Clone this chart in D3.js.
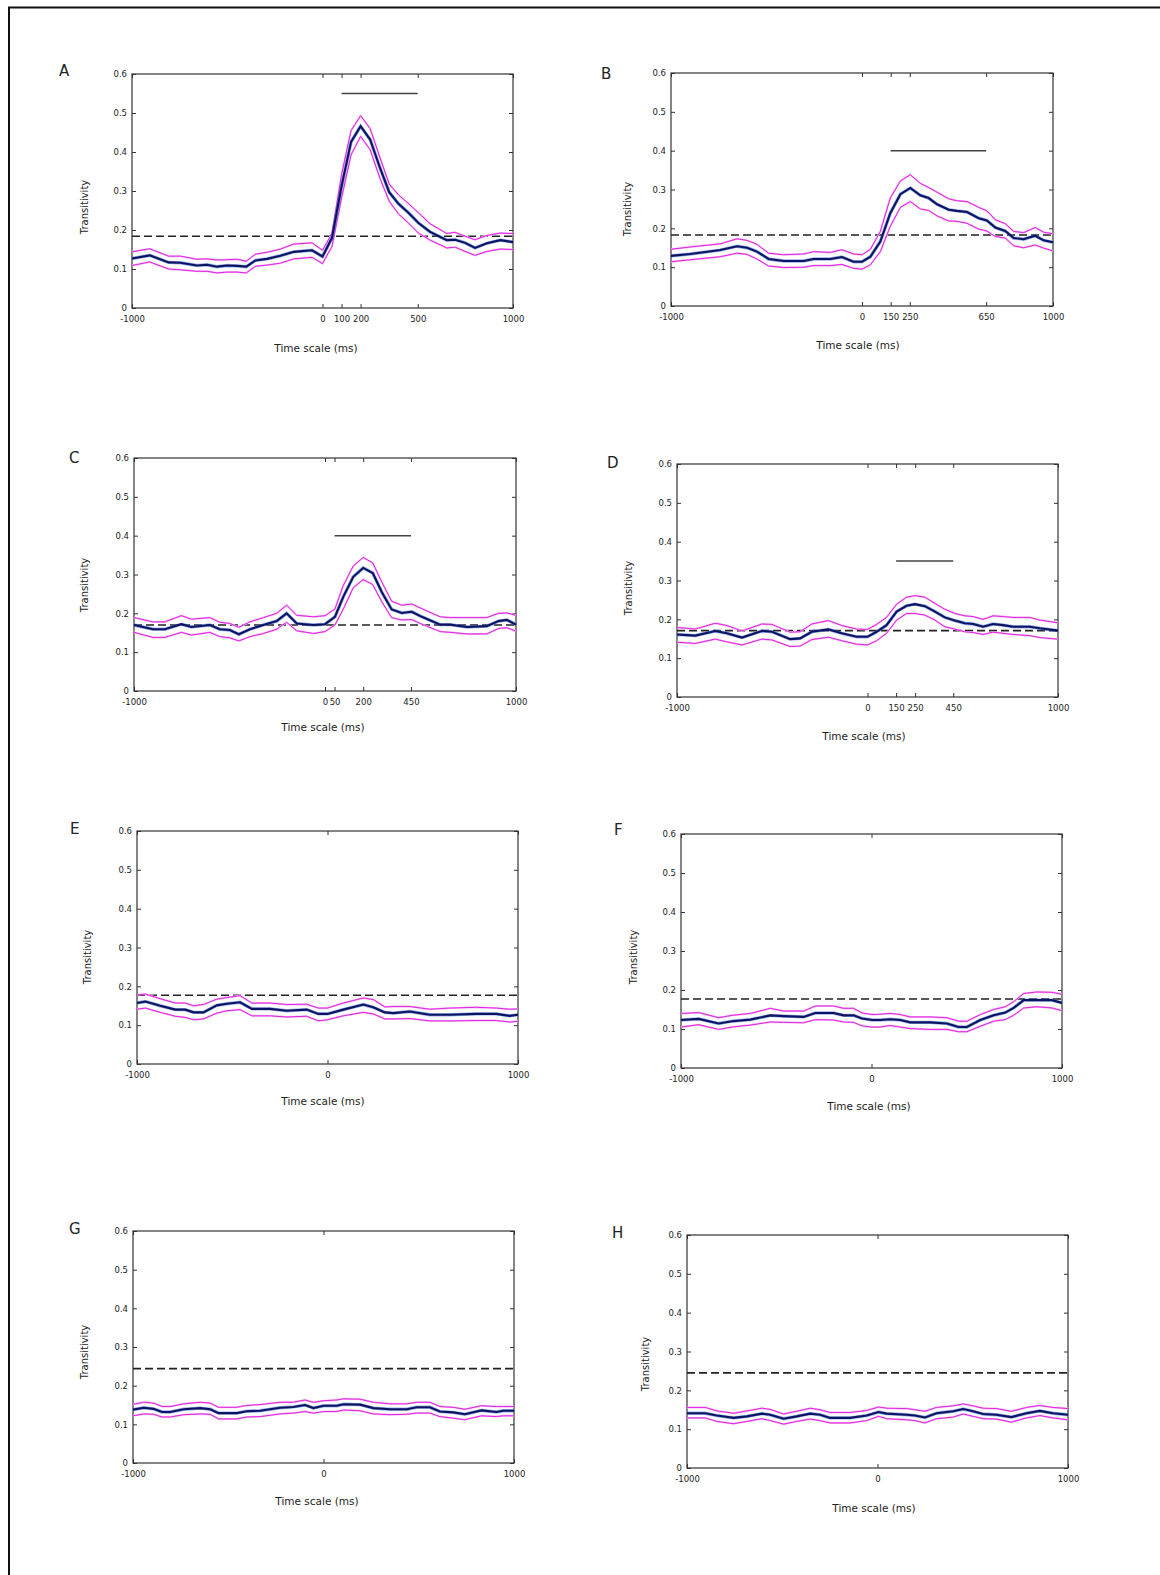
<!DOCTYPE html>
<html>
<head>
<meta charset="utf-8">
<script src="https://cdn.jsdelivr.net/npm/d3@7"></script>
<style>
body { margin: 0; background: #fff; }
text { font-family: "DejaVu Sans", sans-serif; fill: #222; }
</style>
</head>
<body>
<div id="root"></div>
<script>
// DATA (time in ms, transitivity values)
const yTicks = [0, 0.1, 0.2, 0.3, 0.4, 0.5, 0.6];

const timeA = [-1000,-907,-808,-746,-659,-606,-554,-501,-449,-400,-352,-291,-221,-151,-55,0,50,100,150,200,250,302,350,399,451,504,565,652,696,749,801,863,933,1000];
const meanA = [0.127,0.135,0.117,0.116,0.109,0.111,0.106,0.109,0.108,0.106,0.122,0.126,0.134,0.144,0.148,0.132,0.18,0.312,0.426,0.466,0.432,0.359,0.297,0.267,0.244,0.218,0.195,0.174,0.175,0.167,0.154,0.166,0.174,0.169];
const upperA = [0.144,0.152,0.133,0.133,0.125,0.126,0.123,0.124,0.125,0.12,0.138,0.143,0.151,0.164,0.167,0.148,0.192,0.342,0.455,0.493,0.46,0.385,0.318,0.29,0.268,0.244,0.216,0.191,0.194,0.184,0.175,0.186,0.192,0.191];
const lowerA = [0.109,0.118,0.1,0.098,0.094,0.094,0.09,0.092,0.092,0.09,0.107,0.11,0.115,0.126,0.13,0.114,0.158,0.282,0.393,0.44,0.406,0.332,0.274,0.241,0.218,0.192,0.174,0.154,0.156,0.145,0.135,0.145,0.151,0.15];

const timeB = [-1000,-899,-742,-654,-602,-550,-489,-410,-305,-253,-166,-105,-44,0,44,96,148,201,253,305,349,393,454,497,550,611,654,698,750,794,846,907,951,1000];
const meanB = [0.129,0.134,0.144,0.154,0.150,0.140,0.121,0.116,0.116,0.121,0.121,0.126,0.114,0.114,0.127,0.166,0.239,0.288,0.304,0.285,0.278,0.262,0.248,0.245,0.242,0.226,0.22,0.202,0.193,0.175,0.172,0.181,0.169,0.164];
const upperB = [0.146,0.152,0.16,0.173,0.169,0.159,0.136,0.132,0.134,0.14,0.138,0.145,0.134,0.132,0.146,0.192,0.278,0.322,0.338,0.316,0.305,0.293,0.276,0.271,0.269,0.254,0.245,0.222,0.212,0.192,0.189,0.202,0.19,0.186];
const lowerB = [0.114,0.119,0.127,0.136,0.133,0.121,0.103,0.099,0.1,0.104,0.104,0.107,0.097,0.095,0.106,0.14,0.205,0.254,0.269,0.25,0.246,0.232,0.219,0.218,0.213,0.198,0.193,0.179,0.175,0.155,0.15,0.157,0.149,0.142];

const timeC = [-1000,-900,-839,-752,-699,-603,-551,-499,-451,-393,-323,-253,-201,-148,-61,0,52,96,148,200,250,297,349,402,454,498,603,655,743,847,908,952,1000];
const meanC = [0.17,0.159,0.159,0.172,0.165,0.17,0.159,0.157,0.146,0.159,0.17,0.18,0.2,0.174,0.17,0.172,0.191,0.243,0.294,0.317,0.304,0.255,0.21,0.201,0.204,0.193,0.171,0.171,0.165,0.167,0.18,0.183,0.171];
const upperC = [0.189,0.178,0.178,0.194,0.185,0.189,0.177,0.174,0.164,0.178,0.189,0.2,0.221,0.195,0.191,0.194,0.211,0.272,0.322,0.344,0.33,0.281,0.231,0.221,0.224,0.214,0.191,0.189,0.189,0.189,0.2,0.201,0.195];
const lowerC = [0.151,0.138,0.138,0.151,0.144,0.151,0.14,0.137,0.129,0.14,0.148,0.159,0.177,0.155,0.148,0.153,0.17,0.211,0.266,0.287,0.274,0.23,0.189,0.183,0.184,0.174,0.153,0.151,0.147,0.147,0.161,0.163,0.154];

const timeD = [-1000,-904,-799,-738,-659,-555,-502,-406,-354,-292,-205,-135,-57,0,48,100,153,205,249,301,354,406,458,511,555,607,659,712,764,852,904,1000];
const meanD = [0.161,0.158,0.17,0.164,0.153,0.17,0.168,0.149,0.151,0.168,0.174,0.164,0.155,0.155,0.168,0.185,0.22,0.235,0.239,0.234,0.22,0.205,0.197,0.19,0.188,0.181,0.188,0.185,0.181,0.181,0.177,0.171];
const upperD = [0.179,0.175,0.19,0.184,0.17,0.188,0.187,0.167,0.168,0.188,0.197,0.184,0.175,0.174,0.187,0.205,0.239,0.257,0.261,0.257,0.241,0.226,0.215,0.209,0.207,0.2,0.209,0.207,0.205,0.205,0.198,0.191];
const lowerD = [0.141,0.138,0.149,0.142,0.134,0.149,0.147,0.13,0.131,0.148,0.154,0.145,0.136,0.134,0.145,0.164,0.198,0.215,0.215,0.211,0.198,0.181,0.175,0.168,0.166,0.161,0.167,0.164,0.161,0.158,0.153,0.149];

const timeE = [-1000,-956,-878,-799,-747,-703,-651,-581,-528,-459,-397,-301,-214,-109,-48,0,83,188,240,301,345,432,537,642,782,886,956,1000];
const meanE = [0.157,0.161,0.15,0.14,0.14,0.133,0.133,0.151,0.155,0.159,0.142,0.142,0.137,0.14,0.129,0.129,0.14,0.153,0.146,0.133,0.131,0.135,0.127,0.127,0.129,0.129,0.124,0.127];
const upperE = [0.178,0.18,0.168,0.157,0.157,0.15,0.153,0.167,0.171,0.176,0.157,0.157,0.153,0.154,0.144,0.144,0.157,0.17,0.166,0.147,0.148,0.148,0.141,0.144,0.146,0.144,0.141,0.142];
const lowerE = [0.141,0.144,0.133,0.123,0.12,0.114,0.116,0.131,0.137,0.14,0.124,0.124,0.121,0.123,0.111,0.114,0.124,0.133,0.129,0.116,0.116,0.117,0.111,0.111,0.112,0.112,0.108,0.11];

const timeF = [-1000,-907,-802,-732,-636,-531,-461,-356,-295,-199,-146,-94,-50,3,46,98,151,203,308,396,457,501,571,641,702,746,799,869,947,1000];
const meanF = [0.123,0.126,0.114,0.12,0.124,0.135,0.133,0.131,0.141,0.141,0.135,0.135,0.127,0.123,0.123,0.125,0.123,0.117,0.117,0.114,0.105,0.105,0.123,0.135,0.142,0.154,0.174,0.174,0.174,0.167];
const upperF = [0.14,0.142,0.129,0.135,0.14,0.153,0.146,0.146,0.159,0.159,0.153,0.153,0.141,0.137,0.138,0.14,0.137,0.131,0.131,0.129,0.12,0.12,0.137,0.15,0.157,0.17,0.191,0.195,0.194,0.189];
const lowerF = [0.105,0.111,0.099,0.105,0.11,0.118,0.117,0.116,0.124,0.123,0.118,0.117,0.108,0.105,0.105,0.109,0.105,0.101,0.099,0.099,0.093,0.093,0.107,0.12,0.124,0.135,0.154,0.157,0.154,0.147];

const timeG = [-1000,-944,-892,-848,-804,-734,-647,-595,-551,-455,-403,-333,-228,-158,-97,-53,0,70,105,192,262,349,437,489,559,611,681,742,829,908,943,1000];
const meanG = [0.138,0.143,0.14,0.132,0.132,0.139,0.142,0.139,0.129,0.129,0.134,0.135,0.143,0.145,0.15,0.142,0.148,0.148,0.152,0.151,0.142,0.139,0.139,0.144,0.144,0.133,0.131,0.126,0.136,0.132,0.135,0.135];
const upperG = [0.152,0.157,0.155,0.146,0.146,0.153,0.157,0.155,0.144,0.144,0.149,0.151,0.157,0.157,0.163,0.157,0.161,0.163,0.166,0.165,0.157,0.153,0.153,0.157,0.157,0.146,0.144,0.139,0.148,0.146,0.146,0.146];
const lowerG = [0.122,0.127,0.126,0.119,0.119,0.125,0.127,0.126,0.114,0.114,0.119,0.12,0.127,0.129,0.133,0.129,0.133,0.133,0.137,0.135,0.127,0.125,0.126,0.129,0.129,0.12,0.116,0.112,0.122,0.12,0.122,0.122];

const timeH = [-1000,-904,-843,-755,-686,-607,-563,-493,-424,-354,-301,-249,-144,-57,5,48,153,197,249,310,397,450,502,555,624,703,782,852,921,1000];
const meanH = [0.141,0.141,0.135,0.129,0.133,0.14,0.137,0.127,0.133,0.14,0.137,0.129,0.129,0.135,0.144,0.14,0.137,0.135,0.13,0.141,0.146,0.152,0.146,0.139,0.137,0.131,0.141,0.147,0.141,0.137];
const upperH = [0.156,0.156,0.147,0.141,0.147,0.154,0.151,0.139,0.146,0.154,0.15,0.143,0.143,0.148,0.157,0.154,0.153,0.15,0.146,0.156,0.16,0.165,0.16,0.154,0.153,0.146,0.156,0.161,0.156,0.153];
const lowerH = [0.129,0.129,0.12,0.114,0.12,0.127,0.122,0.113,0.12,0.126,0.122,0.116,0.116,0.122,0.133,0.127,0.124,0.122,0.116,0.127,0.131,0.139,0.133,0.127,0.126,0.118,0.129,0.135,0.129,0.124];

// x tick labels per panel
const ticksA = [-1000, 0, 100, 200, 500, 1000];
const ticksB = [-1000, 0, 150, 250, 650, 1000];
const ticksC = [-1000, 0, 50, 200, 450, 1000];
const ticksD = [-1000, 0, 150, 250, 450, 1000];
const ticksEH = [-1000, 0, 1000];

// chance level (dashed) and significance window [from, to, height]
const thresholds = {A: 0.184, B: 0.183, C: 0.17, D: 0.171, E: 0.177, F: 0.177, G: 0.244, H: 0.245};
const sigBars = {A: [100, 500, 0.55], B: [150, 650, 0.4], C: [50, 450, 0.4], D: [150, 450, 0.35]};

// LAYOUT
const panels = [
  {id: 'A', t: timeA, m: meanA, u: upperA, l: lowerA, ticks: ticksA, frame: [132, 74, 513, 308], letter: [59, 76], ylab: [84, 207], xlab: [316, 348]},
  {id: 'B', t: timeB, m: meanB, u: upperB, l: lowerB, ticks: ticksB, frame: [671, 73, 1053, 306], letter: [601, 79], ylab: [627, 209], xlab: [858, 345]},
  {id: 'C', t: timeC, m: meanC, u: upperC, l: lowerC, ticks: ticksC, frame: [134, 458, 516, 691], letter: [69, 463], ylab: [84, 585], xlab: [323, 727]},
  {id: 'D', t: timeD, m: meanD, u: upperD, l: lowerD, ticks: ticksD, frame: [677, 464, 1058, 697], letter: [607, 468], ylab: [628, 588], xlab: [864, 736]},
  {id: 'E', t: timeE, m: meanE, u: upperE, l: lowerE, ticks: ticksEH, frame: [137, 831, 518, 1064], letter: [70, 834], ylab: [87, 957], xlab: [323, 1101]},
  {id: 'F', t: timeF, m: meanF, u: upperF, l: lowerF, ticks: ticksEH, frame: [681, 834, 1062, 1068], letter: [614, 835], ylab: [633, 957], xlab: [869, 1106]},
  {id: 'G', t: timeG, m: meanG, u: upperG, l: lowerG, ticks: ticksEH, frame: [133, 1231, 514, 1463], letter: [69, 1234], ylab: [84, 1352], xlab: [317, 1501]},
  {id: 'H', t: timeH, m: meanH, u: upperH, l: lowerH, ticks: ticksEH, frame: [687, 1235, 1068, 1468], letter: [612, 1238], ylab: [645, 1364], xlab: [874, 1508]}
];

//CREATE SVG
const svg = d3.select('#root')
  .append('svg')
  .attr('width', 1160)
  .attr('height', 1575);

// outer figure border (left + top only)
svg.append('path')
  .attr('d', 'M9,1575 V7.5 H1160')
  .attr('fill', 'none')
  .attr('stroke', '#111')
  .attr('stroke-width', 2);

panels.forEach(p => {
  const [l, t, r, b] = p.frame;
  const x = d3.scaleLinear().domain([-1000, 1000]).range([l, r]);
  const y = d3.scaleLinear().domain([0, 0.6]).range([b, t]);
  const g = svg.append('g');

  // AXES (matlab style: inward ticks, mirrored)
  const styleAxis = sel => {
    sel.attr('font-size', 8.5).attr('font-family', '"DejaVu Sans", sans-serif').attr('color', '#333');
    sel.select('.domain').remove();
  };
  g.append('g').attr('transform', `translate(0,${b})`)
    .call(d3.axisBottom(x).tickValues(p.ticks).tickFormat(d => String(d)).tickSize(-4).tickSizeOuter(0).tickPadding(8))
    .call(styleAxis);
  g.append('g').attr('transform', `translate(0,${t})`)
    .call(d3.axisTop(x).tickValues(p.ticks).tickFormat('').tickSize(-4).tickSizeOuter(0))
    .call(styleAxis);
  g.append('g').attr('transform', `translate(${l},0)`)
    .call(d3.axisLeft(y).tickValues(yTicks).tickFormat(d => d === 0 ? '0' : d.toFixed(1)).tickSize(-4).tickSizeOuter(0).tickPadding(5))
    .call(styleAxis);
  g.append('g').attr('transform', `translate(${r},0)`)
    .call(d3.axisRight(y).tickValues(yTicks).tickFormat('').tickSize(-4).tickSizeOuter(0))
    .call(styleAxis);

  // frame
  g.append('rect')
    .attr('x', l).attr('y', t)
    .attr('width', r - l).attr('height', b - t)
    .attr('fill', 'none')
    .attr('stroke', '#333')
    .attr('stroke-width', 1.2);

  // chance level
  const thr = thresholds[p.id];
  g.append('line')
    .attr('x1', x(-1000)).attr('x2', x(1000))
    .attr('y1', y(thr)).attr('y2', y(thr))
    .attr('stroke', '#222')
    .attr('stroke-width', 1.6)
    .attr('stroke-dasharray', '8,4');

  // significance bar
  if (sigBars[p.id]) {
    const s = sigBars[p.id];
    g.append('line')
      .attr('x1', x(s[0])).attr('x2', x(s[1]))
      .attr('y1', y(s[2])).attr('y2', y(s[2]))
      .attr('stroke', '#444')
      .attr('stroke-width', 1.5);
  }

  //LINE GENERATOR
  const line = d3.line()
    .x((d, i) => x(p.t[i]))
    .y(d => y(d));

  [p.u, p.l].forEach(arr => {
    g.append('path').datum(arr)
      .attr('fill', 'none').attr('stroke', '#f5b8f5').attr('stroke-width', 2)
      .attr('d', line);
    g.append('path').datum(arr)
      .attr('fill', 'none').attr('stroke', '#e010e0').attr('stroke-width', 0.9)
      .attr('d', line);
  });
  g.append('path').datum(p.m)
    .attr('fill', 'none').attr('stroke', '#5577dd').attr('stroke-width', 3.4).attr('stroke-opacity', 0.6)
    .attr('d', line);
  g.append('path').datum(p.m)
    .attr('fill', 'none').attr('stroke', '#0a1460').attr('stroke-width', 2.1)
    .attr('d', line);

  // TEXTS
  g.append('text')
    .attr('x', p.letter[0]).attr('y', p.letter[1])
    .attr('font-family', '"Liberation Sans", Arial, sans-serif')
    .attr('font-size', 15)
    .text(p.id);
  g.append('text')
    .attr('transform', `translate(${p.ylab[0]},${p.ylab[1]}) rotate(-90)`)
    .attr('text-anchor', 'middle')
    .attr('dominant-baseline', 'central')
    .attr('font-size', 10)
    .text('Transitivity');
  g.append('text')
    .attr('x', p.xlab[0]).attr('y', p.xlab[1])
    .attr('text-anchor', 'middle')
    .attr('dominant-baseline', 'central')
    .attr('font-size', 10.5)
    .text('Time scale (ms)');
});
</script>
</body>
</html>
